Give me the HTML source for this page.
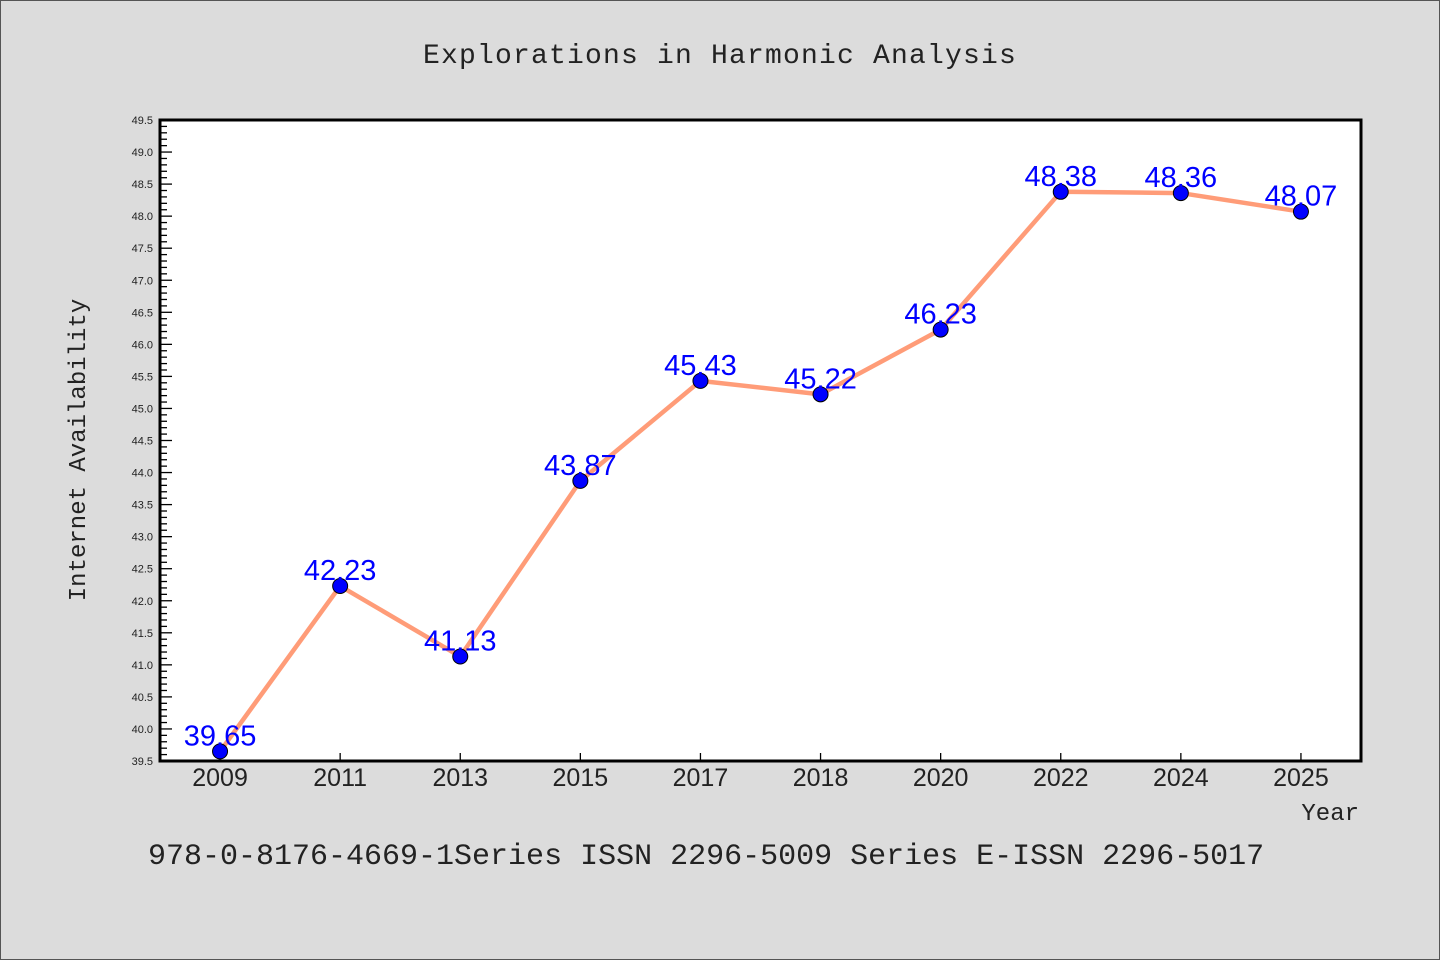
<!DOCTYPE html>
<html><head><meta charset="utf-8"><style>
html,body{margin:0;padding:0;background:#dcdcdc;}
svg{display:block;font-family:"Liberation Sans","DejaVu Sans",sans-serif;}
.mono{font-family:"Liberation Mono","DejaVu Sans Mono",monospace;}
</style></head><body>
<svg id="chart" width="1440" height="960" viewBox="0 0 1440 960">
<rect x="0.5" y="0.5" width="1439" height="959" fill="#dcdcdc" stroke="#555"/>
<text class="mono" x="720" y="63" text-anchor="middle" font-size="28" letter-spacing="1.2" fill="#222">Explorations in Harmonic Analysis</text>
<rect x="160" y="120" width="1201" height="641" fill="#fff"/>
<g id="axes"></g>
<g id="marks"></g>
<path d="M160,120 H1361 V761 H160 Z" fill="none" stroke="#000" stroke-width="3"/>
<text class="mono" transform="translate(85,450) rotate(-90)" text-anchor="middle" font-size="24" fill="#222">Internet Availability</text>
<text class="mono" x="1359" y="820" text-anchor="end" font-size="24" fill="#222">Year</text>
<text class="mono" x="148" y="864" font-size="30" fill="#222">978-0-8176-4669-1Series ISSN 2296-5009 Series E-ISSN 2296-5017</text>
</svg>
<script>
const categories=["2009","2011","2013","2015","2017","2018","2020","2022","2024","2025"];
const values=[39.65,42.23,41.13,43.87,45.43,45.22,46.23,48.38,48.36,48.07];
const yTicks=["39.5","40.0","40.5","41.0","41.5","42.0","42.5","43.0","43.5","44.0","44.5","45.0","45.5","46.0","46.5","47.0","47.5","48.0","48.5","49.0","49.5"];
const yMin=39.5,yMax=49.5,pLeft=160,pRight=1361,pTop=120,pBottom=761;
const NS="http://www.w3.org/2000/svg";
const band=(pRight-pLeft)/categories.length;
function xs(i){return pLeft+band*(i+0.5);}
function ys(v){return pBottom-(v-yMin)/(yMax-yMin)*(pBottom-pTop);}
const axes=document.getElementById('axes'),marks=document.getElementById('marks');
function mk(tag,attrs,parent){const e=document.createElementNS(NS,tag);for(const k in attrs)e.setAttribute(k,attrs[k]);parent.appendChild(e);return e;}
for(let k=0;k<=100;k++){
  const v=yMin+k*0.1;
  const major=k%5===0;
  const t=mk('line',{x1:pLeft,x2:pLeft+(major?12:7),y1:ys(v),y2:ys(v),stroke:'#000','stroke-width':1.3},axes);
  
  
}
yTicks.forEach(s=>{
  const t=mk('text',{x:153,y:ys(parseFloat(s))+4,'text-anchor':'end','font-size':11,fill:'#222'},axes);
  t.textContent=s;
  
  
});
categories.forEach((c,i)=>{
  const tk=mk('line',{x1:xs(i),x2:xs(i),y1:pBottom,y2:pBottom-8,stroke:'#000','stroke-width':1.3},axes);
  
  
  const t=mk('text',{x:xs(i),y:786,'text-anchor':'middle','font-size':25,fill:'#222'},axes);
  t.textContent=c;
  
  
});
const line=mk('polyline',{points:values.map((v,i)=>xs(i)+','+ys(v)).join(' '),fill:'none',stroke:'#ff9c78','stroke-width':4.5,'stroke-linejoin':'round'},marks);


values.forEach((v,i)=>{
  const c=mk('circle',{cx:xs(i),cy:ys(v),r:7.5,fill:'#0000ff',stroke:'#000','stroke-width':1},marks);
  
  
});
values.forEach((v,i)=>{
  const t=mk('text',{x:xs(i),y:ys(v)-6,'text-anchor':'middle','font-size':29,fill:'#0000ff'},marks);
  t.textContent=v.toFixed(2);
  
  
});
</script>
</body></html>
